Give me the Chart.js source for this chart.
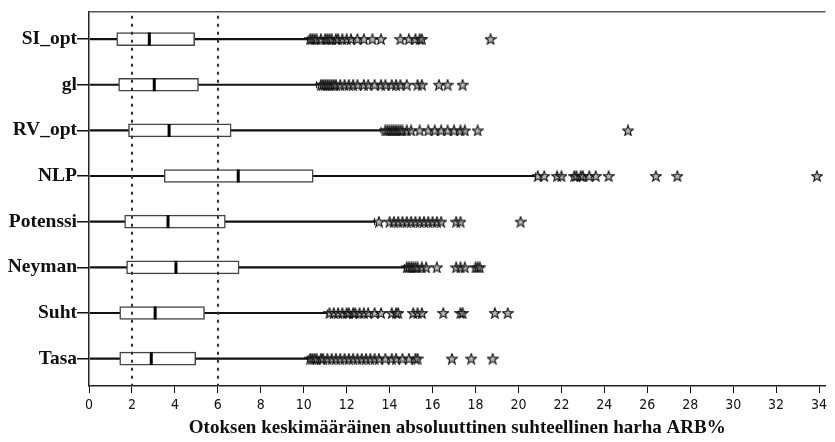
<!DOCTYPE html>
<html>
<head>
<meta charset="utf-8">
<script src="https://cdn.jsdelivr.net/npm/chart.js@4.4.1/dist/chart.umd.min.js"></script>
<style>
  html, body { margin: 0; padding: 0; background: #fff; }
  #wrap { width: 835px; height: 442px; }
</style>
</head>
<body>
<div id="wrap"><canvas id="boxChart" width="835" height="442"></canvas></div>
<script>
// categories, top to bottom
const categories = ['SI_opt', 'gl', 'RV_opt', 'NLP', 'Potenssi', 'Neyman', 'Suht', 'Tasa'];

// box plot statistics (ARB%)
const whiskerLow  = [0.05, 0.05, 0.05, 0.05, 0.05, 0.05, 0.05, 0.05];
const q1          = [1.29, 1.38, 1.84, 3.50, 1.66, 1.75, 1.43, 1.43];
const median      = [2.81, 3.04, 3.73, 6.95, 3.68, 4.05, 3.08, 2.90];
const q3          = [4.92, 5.10, 6.62, 10.44, 6.35, 6.99, 5.38, 4.97];
const whiskerHigh = [10.2, 10.6, 13.6, 20.8, 13.3, 14.7, 11.1, 10.2];

// extreme values (stars)
const outliersSI = [10.3, 10.4, 10.5, 10.6, 10.8, 11.0, 11.1, 11.2, 11.3, 11.5, 11.6, 11.8, 12.0, 12.2, 12.5, 12.8, 13.2, 13.6, 14.5, 14.9, 15.2, 15.4, 15.5, 18.7];
const outliersGl = [10.8, 10.9, 11.0, 11.1, 11.2, 11.3, 11.4, 11.5, 11.7, 11.9, 12.1, 12.3, 12.5, 12.8, 13.0, 13.3, 13.6, 13.8, 14.1, 14.3, 14.5, 14.8, 15.3, 15.5, 16.3, 16.7, 17.4];
const outliersRV = [13.8, 13.9, 14.0, 14.1, 14.2, 14.3, 14.4, 14.5, 14.6, 14.8, 15.0, 15.4, 15.8, 16.1, 16.4, 16.7, 17.0, 17.3, 17.5, 18.1, 25.1];
const outliersNLP = [20.9, 21.2, 21.8, 22.0, 22.6, 22.7, 22.9, 23.0, 23.3, 23.6, 24.2, 26.4, 27.4, 33.9];
const outliersPot = [13.5, 14.0, 14.2, 14.4, 14.6, 14.8, 15.0, 15.2, 15.4, 15.6, 15.8, 16.0, 16.2, 16.4, 17.1, 17.3, 20.1];
const outliersNey = [14.8, 14.9, 15.0, 15.1, 15.2, 15.3, 15.5, 15.7, 16.2, 17.1, 17.3, 17.5, 18.0, 18.1, 18.2];
const outliersSuht = [11.2, 11.4, 11.6, 11.8, 12.0, 12.1, 12.3, 12.4, 12.6, 12.8, 13.0, 13.3, 13.6, 14.1, 14.3, 14.4, 15.1, 15.3, 15.5, 16.5, 17.3, 17.4, 18.9, 19.5];
const outliersTasa = [10.3, 10.4, 10.5, 10.6, 10.8, 10.9, 11.1, 11.3, 11.5, 11.7, 11.9, 12.1, 12.3, 12.5, 12.7, 12.9, 13.1, 13.3, 13.5, 13.8, 14.1, 14.3, 14.6, 14.9, 15.2, 15.3, 16.9, 17.8, 18.8];
const outliers = [outliersSI, outliersGl, outliersRV, outliersNLP, outliersPot, outliersNey, outliersSuht, outliersTasa];

// x axis
const xTicks = [0, 2, 4, 6, 8, 10, 12, 14, 16, 18, 20, 22, 24, 26, 28, 30, 32, 34];
const refLines = [2, 6];
const xTitle = 'Otoksen keskimääräinen absoluuttinen suhteellinen harha ARB%';

/**
 * Five-point outline star used as the point style for extremes
 */
function makeStar(size) {
    const c = document.createElement('canvas');
    c.width = size;
    c.height = size;
    const ctx = c.getContext('2d');
    const cx = size / 2, cy = size / 2 + 0.5;
    const outer = size / 2 - 0.5, inner = outer * 0.42;
    ctx.beginPath();
    for (let i = 0; i < 10; i++) {
        const r = i % 2 === 0 ? outer : inner;
        const a = -Math.PI / 2 + i * Math.PI / 5;
        const px = cx + r * Math.cos(a), py = cy + r * Math.sin(a);
        if (i === 0) ctx.moveTo(px, py); else ctx.lineTo(px, py);
    }
    ctx.closePath();
    ctx.fillStyle = 'rgba(120,120,120,0.5)';
    ctx.fill();
    ctx.strokeStyle = '#111';
    ctx.lineWidth = 1.1;
    ctx.stroke();
    return c;
}

const starImg = makeStar(12);

// frame on top + dotted reference lines at 2 and 6
const framePlugin = {
    id: 'frame',
    afterDatasetsDraw(chart) {
        const { ctx, chartArea: a, scales } = chart;
        ctx.save();
        ctx.strokeStyle = '#555';
        ctx.lineWidth = 1.5;
        ctx.beginPath();
        ctx.moveTo(a.left, a.top);
        ctx.lineTo(a.right, a.top);
        ctx.stroke();

        ctx.strokeStyle = '#333';
        ctx.lineWidth = 2;
        ctx.setLineDash([3, 5]);
        refLines.forEach(v => {
            const x = Math.round(scales.x.getPixelForValue(v));
            ctx.beginPath();
            ctx.moveTo(x, a.top + 4);
            ctx.lineTo(x, a.bottom);
            ctx.stroke();
        });
        ctx.restore();
    }
};

const rows = categories.map((c, i) => i);

new Chart(document.getElementById('boxChart'), {
    type: 'bar',
    data: {
        datasets: [
            {
                label: 'whisker-low',
                data: rows.map(i => ({ x: [whiskerLow[i], q1[i]], y: i })),
                backgroundColor: '#111',
                borderWidth: 0,
                barThickness: 1.5,
                grouped: false,
                order: 6
            },
            {
                label: 'whisker-high',
                data: rows.map(i => ({ x: [q3[i], whiskerHigh[i]], y: i })),
                backgroundColor: '#111',
                borderWidth: 0,
                barThickness: 1.5,
                grouped: false,
                order: 6
            },
            {
                label: 'box',
                data: rows.map(i => ({ x: [q1[i], q3[i]], y: i })),
                backgroundColor: '#fff',
                borderColor: '#444',
                borderWidth: 1.5,
                borderSkipped: false,
                barThickness: 13,
                grouped: false,
                order: 5
            },
            {
                type: 'scatter',
                label: 'cap',
                data: rows.map(i => ({ x: whiskerHigh[i], y: i })),
                pointStyle: 'line',
                rotation: 90,
                radius: 3.5,
                borderColor: '#111',
                borderWidth: 1,
                order: 4
            },
            {
                type: 'scatter',
                label: 'median',
                data: rows.map(i => ({ x: median[i], y: i })),
                pointStyle: 'line',
                rotation: 90,
                radius: 6.5,
                borderColor: '#000',
                borderWidth: 3,
                order: 3
            },
            {
                type: 'scatter',
                label: 'extremes',
                data: rows.flatMap(i => outliers[i].map(v => ({ x: v, y: i }))),
                pointStyle: starImg,
                radius: 5,
                order: 2
            }
        ]
    },
    options: {
        indexAxis: 'y',
        responsive: false,
        animation: false,
        layout: { padding: { top: 11, right: 0, left: 0, bottom: 0 } },
        plugins: {
            legend: { display: false },
            tooltip: { enabled: false }
        },
        scales: {
            x: {
                type: 'linear',
                min: 0,
                max: 34.3,
                bounds: 'data',
                afterBuildTicks: scale => { scale.ticks = xTicks.map(v => ({ value: v })); },
                afterFit: scale => { scale.height = 56; },
                grid: { drawOnChartArea: false, drawTicks: true, tickLength: 7, color: '#111', lineWidth: 1 },
                border: { display: true, color: '#222', width: 1.5 },
                ticks: {
                    color: '#111',
                    padding: 4,
                    maxRotation: 0,
                    font: { family: "'Liberation Sans Narrow', 'DejaVu Sans Condensed', sans-serif", size: 14 }
                },
                title: {
                    display: true,
                    text: xTitle,
                    color: '#111',
                    padding: { top: 0, bottom: 3 },
                    font: { family: "'Liberation Serif', 'DejaVu Serif', serif", size: 19, weight: 'bold' }
                }
            },
            y: {
                type: 'linear',
                reverse: true,
                offset: false,
                bounds: 'data',
                min: -0.6,
                max: 7.6,
                afterBuildTicks: scale => { scale.ticks = rows.map(v => ({ value: v })); },
                afterFit: scale => { scale.width = 89; },
                grid: { offset: false, drawOnChartArea: false, drawTicks: true, tickLength: 12, color: '#111', lineWidth: 1.5 },
                border: { display: true, color: '#222', width: 1.5 },
                ticks: {
                    color: '#111',
                    padding: 0,
                    callback: v => categories[v],
                    font: { family: "'Liberation Serif', 'DejaVu Serif', serif", size: 19.5, weight: 'bold' }
                }
            }
        }
    },
    plugins: [framePlugin]
});
</script>
</body>
</html>
